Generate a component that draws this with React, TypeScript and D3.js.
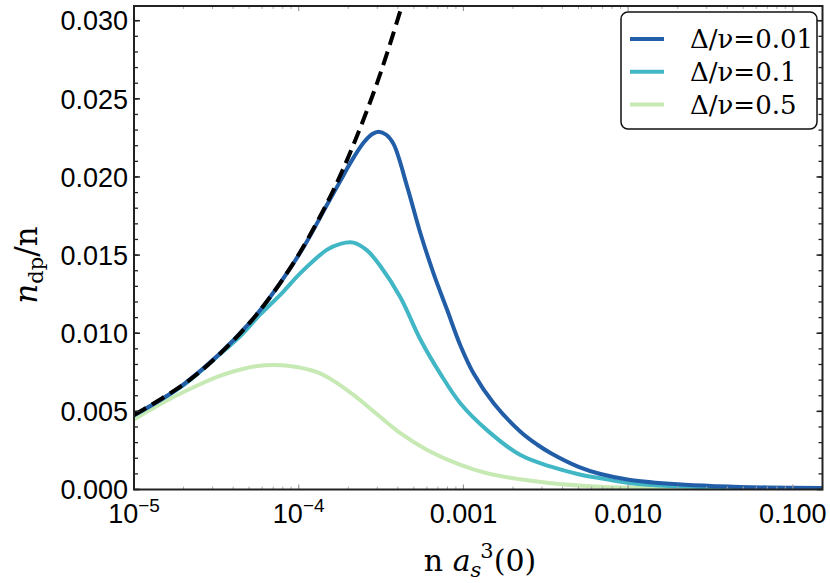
import * as d3 from "d3";

// Bogoliubov (dashed) curve
const dashX = [1e-5, 2e-5, 3e-5, 5e-5, 7e-5, 1e-4, 1.5e-4, 2e-4, 3e-4, 4.3e-4];
const dashY = [0.00476, 0.00673, 0.00824, 0.01063, 0.01258, 0.01504, 0.01842, 0.02127, 0.02605, 0.03119];

// Δ/ν = 0.01
const blueX = [1e-5, 2e-5, 5e-5, 1e-4, 1.5e-4, 1.79e-4, 2.06e-4, 2.48e-4, 2.8e-4, 3.06e-4, 3.4e-4, 3.77e-4, 4.55e-4, 5.48e-4, 6.6e-4, 7.96e-4, 9.6e-4, 1.156e-3, 1.53e-3, 2.22e-3, 2.8e-3, 3.4e-3, 5e-3, 6.8e-3, 1.03e-2, 2e-2, 3.5e-2, 7e-2, 0.152];
const blueY = [0.00476, 0.00673, 0.01063, 0.015, 0.0183, 0.01975, 0.0209, 0.0222, 0.02275, 0.0229, 0.0227, 0.0221, 0.0194, 0.0164, 0.0138, 0.0115, 0.0092, 0.0074, 0.0055, 0.0037, 0.00288, 0.00232, 0.00145, 0.00099, 0.00061, 0.00033, 0.00021, 0.00013, 0.0001];

// Δ/ν = 0.1
const tealX = [1e-5, 2e-5, 3.2e-5, 4.5e-5, 5.8e-5, 8e-5, 1.02e-4, 1.48e-4, 1.79e-4, 2.15e-4, 2.6e-4, 3.13e-4, 4.14e-4, 5.48e-4, 7.25e-4, 9.6e-4, 1.39e-3, 2.22e-3, 3.4e-3, 5e-3, 6.8e-3, 1.03e-2, 2e-2, 3.5e-2, 7e-2, 0.152];
const tealY = [0.00474, 0.00668, 0.0085, 0.0099, 0.01117, 0.01262, 0.01383, 0.01533, 0.01572, 0.0158, 0.0153, 0.0143, 0.0123, 0.0096, 0.0074, 0.0055, 0.0038, 0.0022, 0.00146, 0.00098, 0.00072, 0.0004, 0.0002, 0.00012, 0.00007, 0.00004];

// Δ/ν = 0.5
const greenX = [1e-5, 1.25e-5, 1.8e-5, 2.5e-5, 3.2e-5, 4e-5, 5.5e-5, 7.2e-5, 9.5e-5, 1.28e-4, 1.63e-4, 2.15e-4, 2.99e-4, 4.14e-4, 6.02e-4, 9.6e-4, 1.39e-3, 2.22e-3, 3.4e-3, 6.8e-3, 1.5e-2, 4e-2, 0.152];
const greenY = [0.00449, 0.00509, 0.006, 0.00672, 0.0072, 0.00755, 0.00789, 0.00797, 0.00786, 0.00752, 0.00695, 0.00605, 0.00482, 0.0036, 0.00253, 0.00157, 0.00104, 0.00065, 0.0004, 0.00018, 0.00008, 0.00003, 0.00001];

const legendLabels = ["Δ/ν=0.01", "Δ/ν=0.1", "Δ/ν=0.5"];
const colors = ["#225ea8", "#41b6c4", "#c7e9b4"];

const yTicks = [0, 0.005, 0.01, 0.015, 0.02, 0.025, 0.03];
const xTicks = [1e-5, 1e-4, 1e-3, 1e-2, 1e-1];
const xTickLabels = ["10^-5", "10^-4", "0.001", "0.010", "0.100"];

const W = 830;
const H = 583;
const left = 134;
const right = 822.5;
const top = 6;
const bottom = 489.5;

export default function App() {
  const x = d3.scaleLog().domain([1e-5, 0.1514]).range([left, right]);
  const y = d3.scaleLinear().domain([0, 0.03094]).range([bottom, top]);

  const line = d3
    .line<[number, number]>()
    .curve(d3.curveCatmullRom.alpha(0.5))
    .x((d) => x(d[0]))
    .y((d) => y(d[1]));

  const zip = (xs: number[], ys: number[]) =>
    xs.map((v, i) => [v, ys[i]] as [number, number]);

  const series = [
    { pts: zip(greenX, greenY), color: colors[2] },
    { pts: zip(tealX, tealY), color: colors[1] },
    { pts: zip(blueX, blueY), color: colors[0] },
  ];

  const yMinor = d3.range(0, 0.0305, 0.001);
  const xMinor: number[] = [];
  for (let e = -5; e <= -1; e++) {
    for (let m = 2; m <= 9; m++) {
      const v = m * Math.pow(10, e);
      if (v < 0.1514) xMinor.push(v);
    }
  }

  const tickFont = "'Liberation Sans', Arial, sans-serif";
  const serif = "'DejaVu Serif', serif";

  return (
    <div style={{ position: "absolute", left: 0, top: 0 }}>
      <svg width={W} height={H} style={{ display: "block", background: "#fff" }}>
        <defs>
          <clipPath id="plot">
            <rect x={left} y={top} width={right - left} height={bottom - top} />
          </clipPath>
        </defs>

        <g clipPath="url(#plot)">
          {series.map((s, i) => (
            <path key={i} d={line(s.pts) ?? ""} fill="none" stroke={s.color} strokeWidth={4} />
          ))}
          <path
            d={line(zip(dashX, dashY)) ?? ""}
            fill="none"
            stroke="#000"
            strokeWidth={4}
            strokeDasharray="14 7"
          />
        </g>

        {/* x ticks, bottom and top */}
        {xMinor.map((v) => (
          <g key={"xm" + v} stroke="#aaa" strokeWidth={1}>
            <line x1={x(v)} x2={x(v)} y1={bottom} y2={bottom - 3} />
            <line x1={x(v)} x2={x(v)} y1={top} y2={top + 3} />
          </g>
        ))}
        {xTicks.map((v) => (
          <g key={"xM" + v} stroke="#999" strokeWidth={1.2}>
            <line x1={x(v)} x2={x(v)} y1={bottom} y2={bottom - 5} />
            <line x1={x(v)} x2={x(v)} y1={top} y2={top + 5} />
          </g>
        ))}

        {/* y ticks, left and right */}
        {yMinor.map((v) => (
          <g key={"ym" + v} stroke="#222" strokeWidth={1.3}>
            <line x1={left} x2={left + 4} y1={y(v)} y2={y(v)} />
            <line x1={right} x2={right - 4} y1={y(v)} y2={y(v)} />
          </g>
        ))}
        {yTicks.map((v) => (
          <g key={"yM" + v} stroke="#222" strokeWidth={1.5}>
            <line x1={left} x2={left + 6} y1={y(v)} y2={y(v)} />
            <line x1={right} x2={right - 6} y1={y(v)} y2={y(v)} />
          </g>
        ))}

        <rect
          x={left}
          y={top}
          width={right - left}
          height={bottom - top}
          fill="none"
          stroke="#222"
          strokeWidth={2}
        />

        {/* y tick labels */}
        {yTicks.map((v) => (
          <text
            key={"yl" + v}
            x={left - 6}
            y={y(v)}
            dy="0.36em"
            textAnchor="end"
            fontFamily={tickFont}
            fontSize={27}
            fill="#000"
          >
            {d3.format(".3f")(v)}
          </text>
        ))}

        {/* x tick labels */}
        {xTicks.map((v, i) => {
          const lab = xTickLabels[i];
          const sup = lab.startsWith("10^");
          return (
            <text
              key={"xl" + v}
              x={x(v)}
              y={523}
              textAnchor="middle"
              fontFamily={tickFont}
              fontSize={27}
              fill="#000"
            >
              {sup ? (
                <>
                  <tspan>10</tspan>
                  <tspan fontSize={19} dy={-11}>
                    {"\u2212" + lab.slice(4)}
                  </tspan>
                </>
              ) : (
                lab
              )}
            </text>
          );
        })}

        {/* axis titles */}
        <text x={480} y={571} textAnchor="middle" fontFamily={serif} fontSize={30} fill="#000">
          <tspan>n </tspan>
          <tspan fontStyle="italic">a</tspan>
          <tspan fontStyle="italic" fontSize={21} dy={6}>s</tspan>
          <tspan fontSize={21} dy={-19} dx={-1}>3</tspan>
          <tspan dy={13}>(0)</tspan>
        </text>
        <text
          transform="translate(37,265) rotate(-90)"
          textAnchor="middle"
          fontFamily={serif}
          fontSize={31}
          fill="#000"
        >
          <tspan fontStyle="italic">n</tspan>
          <tspan fontSize={21} dy={6}>dp</tspan>
          <tspan dy={-6}>/n</tspan>
        </text>

        {/* legend */}
        <rect
          x={621}
          y={12}
          width={196}
          height={117}
          rx={7}
          fill="#fff"
          fillOpacity={0.85}
          stroke="#111"
          strokeWidth={1.5}
        />
        {legendLabels.map((lab, i) => {
          const ly = 39 + i * 32.7;
          return (
            <g key={lab}>
              <line x1={630} x2={664} y1={ly} y2={ly} stroke={colors[i]} strokeWidth={4} />
              <text
                x={690}
                y={ly}
                dy="0.35em"
                fontFamily={serif}
                fontSize={26}
                fill="#000"
              >
                {lab}
              </text>
            </g>
          );
        })}
      </svg>
    </div>
  );
}
